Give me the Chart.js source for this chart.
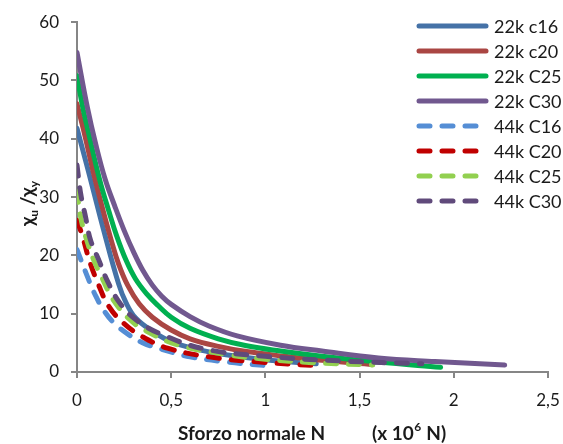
<!DOCTYPE html>
<html>
<head>
<meta charset="utf-8">
<script src="https://cdn.jsdelivr.net/npm/chart.js@4"></script>
<style>
  html, body { margin: 0; padding: 0; background: #fff; }
  #wrap { width: 563px; height: 444px; position: relative; }
</style>
</head>
<body>
<div id="wrap"><canvas id="chart"></canvas></div>
<script>
// curve points: N (x 10^6 N) and chi_u / chi_y
const x22c16 = [0, 0.06, 0.14, 0.22, 0.26, 0.31, 0.4, 0.5, 0.65, 0.8, 1.0, 1.27];
const y22c16 = [41.8, 34.5, 24.5, 15.2, 11.9, 9.3, 7.0, 5.2, 3.8, 2.9, 2.1, 1.4];

const x22c20 = [0, 0.04, 0.09, 0.14, 0.18, 0.22, 0.27, 0.33, 0.4, 0.5, 0.6, 0.75, 0.9, 1.1, 1.3, 1.57];
const y22c20 = [46, 40.8, 33.8, 27.5, 22.8, 18.6, 14.8, 11.7, 9.4, 7.2, 5.7, 4.4, 3.5, 2.7, 2.0, 1.3];

const x22c25 = [0, 0.03, 0.06, 0.12, 0.17, 0.21, 0.26, 0.31, 0.37, 0.43, 0.5, 0.6, 0.75, 0.9, 1.08, 1.3, 1.6, 1.93];
const y22c25 = [50.8, 45.5, 41.2, 33, 27.5, 23.4, 19.2, 16, 13.4, 11.4, 9.4, 7.5, 5.7, 4.5, 3.6, 2.7, 1.7, 0.8];

const x22c30 = [0, 0.055, 0.1, 0.15, 0.2, 0.25, 0.3, 0.35, 0.4, 0.45, 0.5, 0.6, 0.7, 0.85, 1.08, 1.3, 1.6, 1.9, 2.27];
const y22c30 = [54.8, 45.4, 39, 33, 28.5, 24.3, 20.6, 17.4, 14.9, 13.0, 11.6, 9.5, 7.9, 6.2, 4.6, 3.6, 2.4, 1.8, 1.2];

const x44c16 = [0, 0.05, 0.1, 0.15, 0.2, 0.27, 0.35, 0.45, 0.6, 0.8, 1.0];
const y44c16 = [21, 16.8, 13, 10.2, 8.3, 6.5, 5.0, 3.9, 2.6, 1.7, 1.1];

const x44c20 = [0, 0.03, 0.065, 0.11, 0.17, 0.25, 0.35, 0.48, 0.7, 0.97, 1.27];
const y44c20 = [26, 23.2, 19.2, 15.3, 11.2, 8.3, 6.0, 4.1, 2.6, 1.7, 1.1];

const x44c25 = [0, 0.02, 0.05, 0.09, 0.135, 0.19, 0.28, 0.37, 0.53, 0.79, 1.0, 1.25, 1.57];
const y44c25 = [31, 26.5, 22.8, 19.1, 16, 12.5, 9.0, 7.0, 4.7, 3.0, 2.2, 1.6, 1.2];

const x44c30 = [0, 0.02, 0.046, 0.072, 0.117, 0.16, 0.23, 0.32, 0.44, 0.67, 1.0, 1.4, 1.83];
const y44c30 = [35.5, 30.5, 26.5, 22.6, 19.1, 15.7, 11.7, 8.8, 6.6, 4.0, 2.7, 1.9, 1.4];

const seriesLabels = ["22k c16", "22k c20", "22k C25", "22k C30", "44k C16", "44k C20", "44k C25", "44k C30"];
const seriesX = [x22c16, x22c20, x22c25, x22c30, x44c16, x44c20, x44c25, x44c30];
const seriesY = [y22c16, y22c20, y22c25, y22c30, y44c16, y44c20, y44c25, y44c30];
const seriesColors = ["#4572A7", "#AA4643", "#00B050", "#71588F", "#558ED5", "#C00000", "#92D050", "#604A7B"];

const xTicks = [0, 0.5, 1, 1.5, 2, 2.5];
const yTicks = [0, 10, 20, 30, 40, 50, 60];

const DASH = [11, 12];
const AXIS = "#868686";
const TEXT = "#1a1a1a";

const datasets = seriesLabels.map((label, i) => ({
  label: label,
  data: seriesX[i].map((x, j) => ({ x: x, y: seriesY[i][j] })),
  borderColor: seriesColors[i],
  backgroundColor: seriesColors[i],
  borderWidth: 5,
  borderDash: i >= 4 ? DASH : [],
  borderCapStyle: "round",
  borderJoinStyle: "round",
  pointRadius: 0,
  tension: 0.4,
  fill: false,
  // later series sit on top
  order: seriesLabels.length - i,
}));

// legend drawn inside the plot, top right
const insideLegend = {
  id: "insideLegend",
  afterDraw(chart) {
    const ctx = chart.ctx;
    ctx.save();
    ctx.font = "18px Lato";
    ctx.textBaseline = "middle";
    ctx.fillStyle = TEXT;
    chart.data.datasets.forEach((ds, i) => {
      const y = 26 + i * 25;
      ctx.strokeStyle = ds.borderColor;
      ctx.lineWidth = 5;
      ctx.lineCap = "round";
      ctx.setLineDash(ds.borderDash);
      ctx.beginPath();
      ctx.moveTo(419, y);
      ctx.lineTo(ds.borderDash.length ? 483 : 486, y);
      ctx.stroke();
      ctx.setLineDash([]);
      ctx.fillText(ds.label, 494, y + 1);
    });
    ctx.restore();
  },
};

// axis titles with sub/superscripts
const axisTitles = {
  id: "axisTitles",
  afterDraw(chart) {
    const ctx = chart.ctx;
    const big = "bold 19px Lato";
    const small = "bold 12px Lato";
    ctx.save();
    ctx.fillStyle = TEXT;
    ctx.textBaseline = "alphabetic";

    ctx.font = big;
    ctx.fillText("Sforzo normale N", 178, 440);
    let x = 372;
    ctx.fillText("(x 10", x, 440);
    x += ctx.measureText("(x 10").width;
    ctx.font = small;
    ctx.fillText("6", x + 0.5, 431);
    x += ctx.measureText("6").width + 1;
    ctx.font = big;
    ctx.fillText(" N)", x, 440);

    ctx.translate(34, 226);
    ctx.rotate(-Math.PI / 2);
    const parts = [["χ", big, 0], ["u", small, 4], [" /χ", big, 0], ["y", small, 4]];
    let p = 0;
    parts.forEach(([t, f, dy]) => {
      ctx.font = f;
      ctx.fillText(t, p, dy);
      p += ctx.measureText(t).width;
    });
    ctx.restore();
  },
};

const tickFont = { family: "Lato", size: 17 };

new Chart(document.getElementById("chart"), {
  type: "line",
  data: { datasets: datasets },
  options: {
    responsive: true,
    maintainAspectRatio: false,
    animation: false,
    layout: { padding: { left: 0, right: 15, top: 21, bottom: 0 } },
    plugins: {
      legend: { display: false },
      tooltip: { enabled: false },
    },
    scales: {
      x: {
        type: "linear",
        min: 0,
        max: 2.5,
        afterBuildTicks: (scale) => { scale.ticks = xTicks.map((v) => ({ value: v })); },
        afterFit: (scale) => {
          scale.height = 72;
          scale.paddingRight = 0;
        },
        ticks: {
          font: tickFont,
          color: TEXT,
          padding: 12,
          maxRotation: 0,
          callback: (v) => String(v).replace(".", ","),
        },
        grid: { drawOnChartArea: false, drawTicks: true, tickLength: 6, color: AXIS, lineWidth: 2 },
        border: { color: AXIS, width: 2 },
      },
      y: {
        min: 0,
        max: 60,
        afterBuildTicks: (scale) => { scale.ticks = yTicks.map((v) => ({ value: v })); },
        afterFit: (scale) => { scale.width = 77; },
        ticks: { font: tickFont, color: TEXT, padding: 12 },
        grid: { drawOnChartArea: false, drawTicks: true, tickLength: 6, color: AXIS, lineWidth: 2 },
        border: { color: AXIS, width: 2 },
      },
    },
  },
  plugins: [insideLegend, axisTitles],
});
</script>
</body>
</html>
